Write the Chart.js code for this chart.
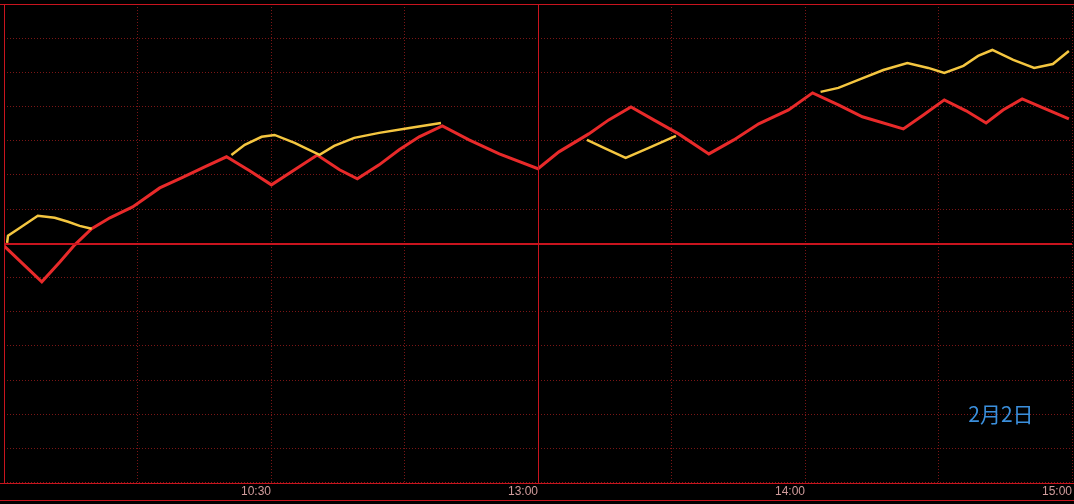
<!DOCTYPE html>
<html>
<head>
<meta charset="utf-8">
<script src="https://cdn.jsdelivr.net/npm/chart.js@4.4.1/dist/chart.umd.min.js"></script>
<style>
  html, body { margin: 0; padding: 0; background: #000; }
  #wrap { width: 1074px; height: 504px; position: relative; }
</style>
</head>
<body>
<div id="wrap"><canvas id="chart"></canvas></div>
<script>
// minutes since 9:30 (trading minutes, 240 = 15:00), values in % vs previous close
const priceMinutes = [0, 8.5, 12.6, 15.9, 19.7, 23.8, 28.9, 35.0, 39.9, 45.1, 50.0, 55.2, 60.1, 65.3, 70.4, 75.4, 79.4, 84.3, 88.8, 93.3, 98.5, 104.5, 111.3, 120.0, 124.7, 131.4, 135.9, 140.9, 146.0, 151.6, 158.4, 164.0, 169.6, 176.3, 181.7, 187.5, 192.9, 202.1, 206.6, 211.3, 216.2, 220.7, 224.5, 228.8, 233.5, 239.3];
const priceValues = [-0.015, -0.225, -0.108, -0.009, 0.085, 0.149, 0.213, 0.324, 0.383, 0.447, 0.506, 0.424, 0.342, 0.430, 0.517, 0.430, 0.377, 0.459, 0.547, 0.623, 0.687, 0.605, 0.523, 0.436, 0.535, 0.640, 0.722, 0.798, 0.722, 0.640, 0.523, 0.605, 0.699, 0.780, 0.880, 0.810, 0.740, 0.669, 0.751, 0.839, 0.775, 0.704, 0.780, 0.845, 0.792, 0.728];

// yellow line only shows in pieces, null breaks the line
const avgMinutes = [0.7, 0.9, 3.6, 7.6, 11.4, 14.4, 17.0, 19.7, 35,
  51.1, 54.1, 57.9, 60.8, 65.3, 70.9, 74.2, 78.7, 84.3, 91.1, 98.2, 115,
  131.0, 135.3, 139.7, 144.9, 151.0, 165,
  183.5, 187.5, 192.0, 197.6, 203.0, 207.7, 211.3, 215.6, 218.9, 222.1, 226.8, 231.5, 235.7, 239.3];
const avgValues = [0.003, 0.044, 0.091, 0.161, 0.149, 0.126, 0.102, 0.085, null,
  0.517, 0.576, 0.623, 0.634, 0.588, 0.517, 0.570, 0.617, 0.646, 0.675, 0.704, null,
  0.605, 0.552, 0.500, 0.558, 0.628, null,
  0.886, 0.909, 0.956, 1.014, 1.055, 1.026, 0.997, 1.038, 1.096, 1.131, 1.073, 1.026, 1.049, 1.125];

const timeTicks = [0, 30, 60, 90, 120, 150, 180, 210, 240];
const timeLabels = ["", "", "10:30", "", "13:00", "", "14:00", "", "15:00"];
const dateText = "2月2日";

const RED_SOLID = "#c8141e";
const RED_DOT = "#7a1616";

const toPoints = (xs, ys) => xs.map((x, i) => ({ x: x, y: ys[i] }));

// solid lines: frame, zero line, 13:00 line, bottom label rule, plus the date text
const framePlugin = {
  id: "frame",
  afterDraw(chart) {
    const { ctx, chartArea: a, scales } = chart;
    const xs = scales.x, ys = scales.y;
    ctx.save();
    ctx.fillStyle = RED_SOLID;
    const top = Math.round(a.top), bottom = Math.round(a.bottom);
    const left = Math.round(a.left), right = Math.round(a.right);
    const y0 = Math.floor(ys.getPixelForValue(0));
    const x13 = Math.round(xs.getPixelForValue(120));
    ctx.fillRect(0, top, chart.width, 1);
    ctx.fillRect(0, bottom, chart.width, 1);
    ctx.fillRect(0, bottom + 17, chart.width, 1);
    ctx.fillRect(left, top, 1, bottom - top);
    ctx.fillRect(left, y0, right - left, 2);
    ctx.fillRect(x13, top, 1, bottom - top);

    ctx.fillStyle = "#3b8fdc";
    ctx.font = "21px 'Noto Sans CJK SC', sans-serif";
    ctx.textAlign = "left";
    ctx.textBaseline = "middle";
    ctx.fillText(dateText, xs.getPixelForValue(216.7), ys.getPixelForValue(-1.0));
    ctx.restore();
  }
};

new Chart(document.getElementById("chart"), {
  type: "line",
  data: {
    datasets: [
      {
        label: "均价",
        data: toPoints(avgMinutes, avgValues),
        borderColor: "#f4c640",
        borderWidth: 2.5,
        pointRadius: 0,
        tension: 0,
        spanGaps: false
      },
      {
        label: "价格",
        data: toPoints(priceMinutes, priceValues),
        borderColor: "#e82a2a",
        borderWidth: 3,
        pointRadius: 0,
        tension: 0
      }
    ]
  },
  options: {
    responsive: true,
    maintainAspectRatio: false,
    animation: false,
    layout: { padding: { left: 4, right: 0, top: 4, bottom: 3 } },
    plugins: { legend: { display: false }, tooltip: { enabled: false } },
    scales: {
      x: {
        type: "linear",
        min: 0,
        max: 240,
        afterBuildTicks: (axis) => { axis.ticks = timeTicks.map(v => ({ value: v })); },
        ticks: {
          color: "#d09c9c",
          font: { family: "'Liberation Sans', Arial, sans-serif", size: 12 },
          align: "end",
          padding: 2,
          maxRotation: 0,
          autoSkip: false,
          callback: (v) => timeLabels[timeTicks.indexOf(v)] || ""
        },
        grid: { color: RED_DOT, lineWidth: 1, drawTicks: false },
        border: { display: false, dash: [1, 2] }
      },
      y: {
        min: -1.4,
        max: 1.4,
        ticks: { display: false, stepSize: 0.2 },
        grid: { color: RED_DOT, lineWidth: 1, drawTicks: false },
        border: { display: false, dash: [1, 2] }
      }
    }
  },
  plugins: [framePlugin]
});
</script>
</body>
</html>
